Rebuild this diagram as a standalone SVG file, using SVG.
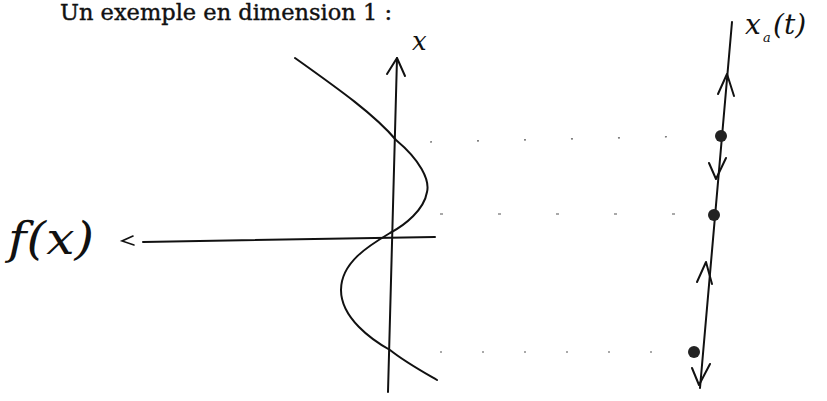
<svg xmlns="http://www.w3.org/2000/svg" width="827" height="401" viewBox="0 0 827 401">
<defs>
<style>
.ink{fill:none;stroke:#111;stroke-width:2;stroke-linecap:round;stroke-linejoin:round}
.thin{fill:none;stroke:#111;stroke-width:1.6;stroke-linecap:round}
.dash{fill:none;stroke:#555;stroke-width:1.2}
.hand{font-family:"DejaVu Serif","Liberation Serif",serif;font-style:italic;fill:#111}
.title{font-family:"DejaVu Serif","Liberation Serif",serif;font-size:22px;fill:#111;stroke:#111;stroke-width:0.4}
</style>
</defs>
<rect width="827" height="401" fill="#fff"/>
<text class="title" x="60" y="20" textLength="332" lengthAdjust="spacingAndGlyphs">Un exemple en dimension 1 :</text>

<g id="plot">
  <!-- vertical x axis -->
  <path class="ink" d="M397,58 L388,392"/>
  <path class="ink" d="M387,74 L397,58 L405,76"/>
  <text class="hand" x="412" y="50" font-size="26">x</text>
  <!-- horizontal f(x) axis -->
  <path class="ink" d="M143,242 L435,237"/>
  <path class="thin" d="M133,236 L122,241 L134,245"/>
  <text class="hand" x="8" y="254" font-size="44" textLength="86" lengthAdjust="spacingAndGlyphs">f(x)</text>
  <!-- curve -->
  <path class="ink" d="M295,58 C340,90 375,115 396,140 C420,160 430,180 427,192 C424,210 405,225 390,233 C370,245 341,262 341,290 C341,318 372,340 390,350 C405,362 425,373 437,380"/>
</g>

<g id="connectors">
  <path class="dash" d="M430,142 L700,136" stroke-dasharray="2 45"/>
  <path class="dash" d="M440,214 L705,214" stroke-dasharray="3 55"/>
  <path class="dash" d="M440,352 L690,352" stroke-dasharray="2 40"/>
</g>

<g id="trajectory">
  <path class="ink" d="M732,22 L700,388"/>
  <text class="hand" x="745" y="34" font-size="28">x</text>
  <text class="hand" x="763" y="42" font-size="13">a</text>
  <text class="hand" x="773" y="34" font-size="28">(t)</text>
  <!-- arrows -->
  <path class="ink" d="M718,94 L727,74 L734,96"/>
  <path class="ink" d="M709,163 L716,179 L726,158"/>
  <path class="ink" d="M697,282 L706,262 L712,284"/>
  <path class="ink" d="M692,368 L699,385 L710,364"/>
  <!-- fixed points -->
  <circle id="p1" cx="721" cy="136" r="6" fill="#222"/>
  <circle id="p2" cx="714" cy="215" r="6" fill="#222"/>
  <circle id="p3" cx="694" cy="352" r="6" fill="#222"/>
</g>
</svg>
